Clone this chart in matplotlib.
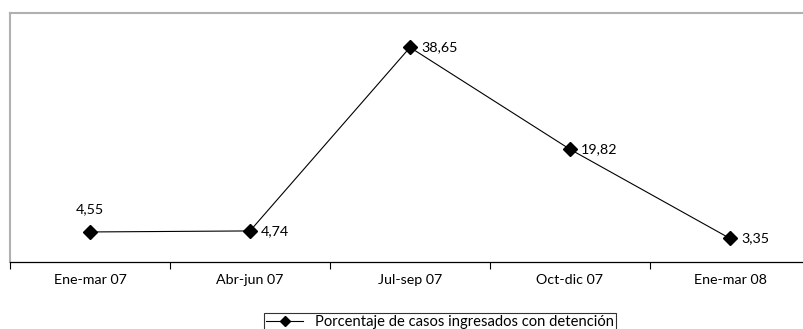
import matplotlib.pyplot as plt
import numpy as np

plt.rcParams['font.family'] = ['Lato', 'DejaVu Sans']

periodos = ["Ene-mar 07", "Abr-jun 07", "Jul-sep 07", "Oct-dic 07", "Ene-mar 08"]
porcentajes = [4.55, 4.74, 38.65, 19.82, 3.35]
etiquetas = ["4,55", "4,74", "38,65", "19,82", "3,35"]
serie = "Porcentaje de casos ingresados con detención"

fig = plt.figure(figsize=(8.04, 3.29), dpi=100)
ax = fig.add_axes([10 / 804, 67 / 329, 800 / 804, 249 / 329])

x = np.arange(len(periodos))
ax.plot(x, porcentajes, color='black', lw=0.8, marker='D', ms=7,
        mfc='black', mec='black', label=serie, zorder=3)

for i, (v, t) in enumerate(zip(porcentajes, etiquetas)):
    if i == 0:
        ax.annotate(t, (i, v), xytext=(0, 12), textcoords='offset points',
                    ha='center', va='bottom', fontsize=10.3)
    else:
        ax.annotate(t, (i, v), xytext=(8, 0), textcoords='offset points',
                    ha='left', va='center', fontsize=10.3)

ax.set_xlim(-0.5, 4.5)
ax.set_ylim(-1, 45)
ax.set_xticks(x)
ax.set_xticklabels(periodos, fontsize=10.3)
ax.set_xticks(np.arange(-0.5, 5, 1), minor=True)
ax.tick_params(axis='x', which='major', length=0, pad=9)
ax.tick_params(axis='x', which='minor', length=5, width=0.8, direction='out')
ax.set_yticks([])

ax.spines['right'].set_visible(False)
ax.spines['top'].set_color('#b0b0b0')
ax.spines['top'].set_linewidth(1.5)
ax.spines['left'].set_color('#b0b0b0')
ax.spines['left'].set_linewidth(1.5)
ax.spines['bottom'].set_color('black')
ax.spines['bottom'].set_linewidth(0.9)

leg = fig.legend(loc='upper center', bbox_to_anchor=(440 / 804, 16 / 329),
                 borderaxespad=0, frameon=True, fancybox=False, fontsize=10.6,
                 handlelength=2.5, borderpad=0.15, markerscale=0.8)
leg.get_frame().set_edgecolor('black')
leg.get_frame().set_linewidth(0.8)

fig.savefig('out.png', dpi=100)
